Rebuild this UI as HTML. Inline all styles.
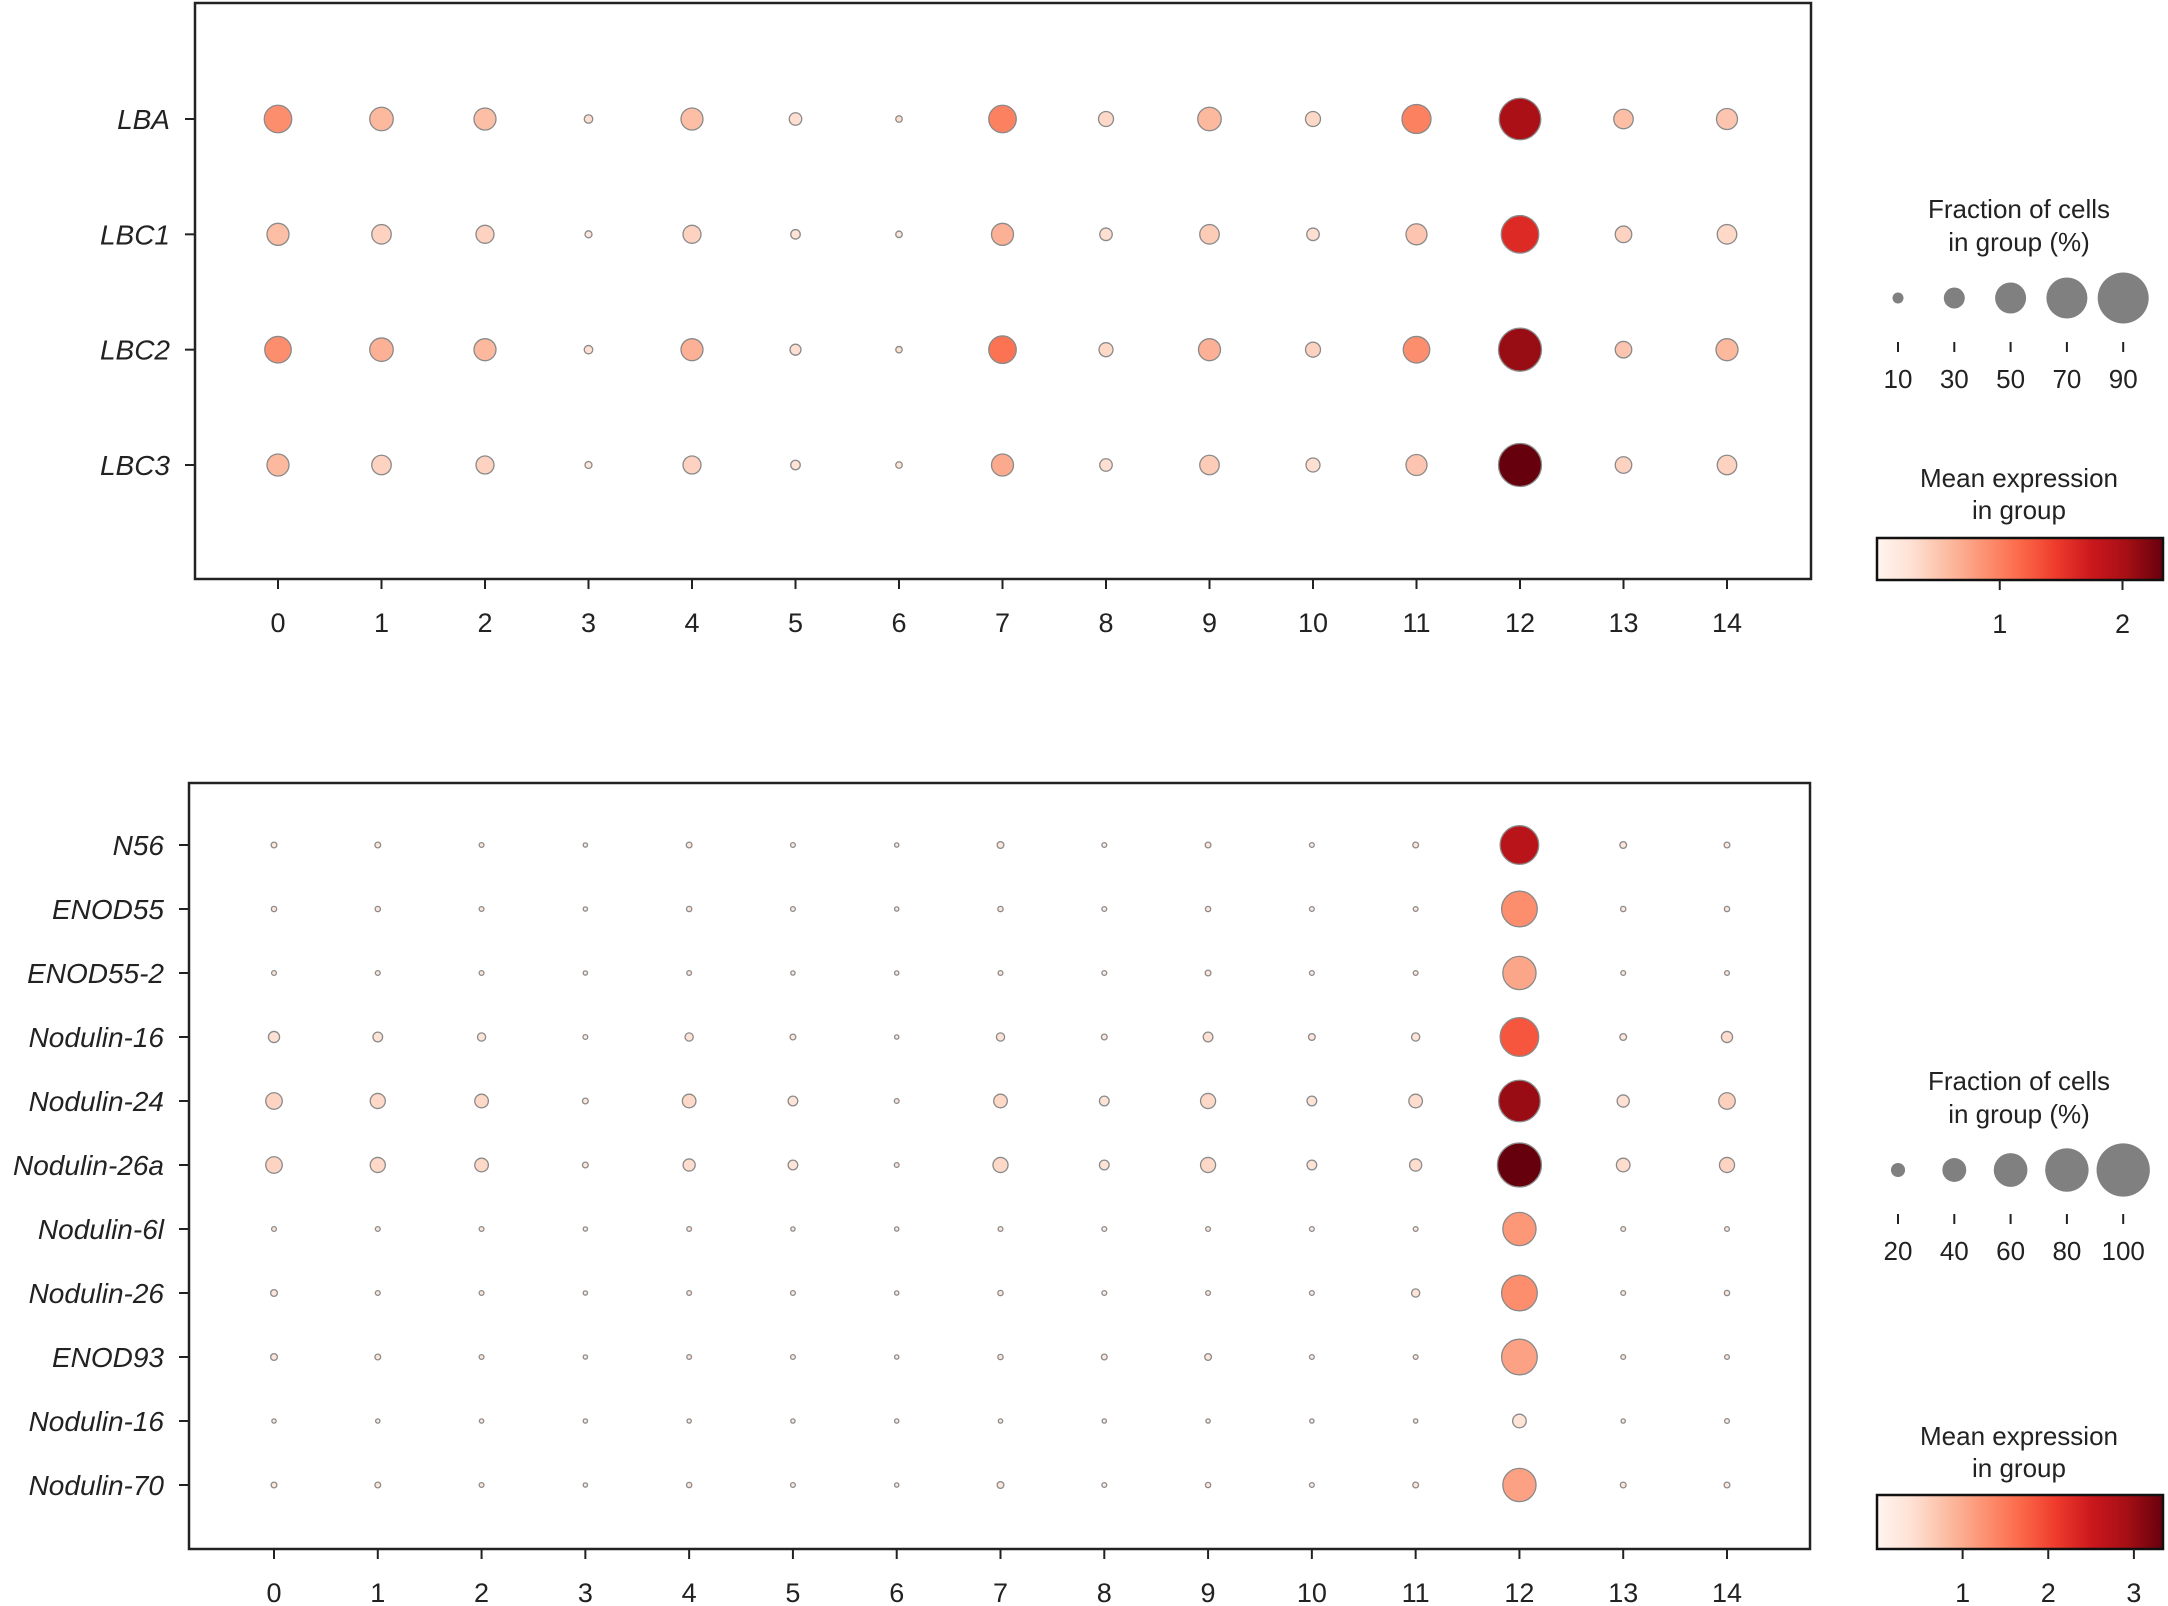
<!DOCTYPE html>
<html><head><meta charset="utf-8"><style>
html,body{margin:0;padding:0;background:#fff;}
svg{display:block;font-family:"Liberation Sans",Arial,sans-serif;}
</style></head><body>
<svg id="chart" width="2168" height="1606" viewBox="0 0 2168 1606" xmlns="http://www.w3.org/2000/svg">
<defs>
<linearGradient id="reds" x1="0" x2="1" y1="0" y2="0">
<stop offset="0" stop-color="#fff5f0"/><stop offset="0.125" stop-color="#fee0d2"/><stop offset="0.25" stop-color="#fcbba1"/><stop offset="0.375" stop-color="#fc9272"/><stop offset="0.5" stop-color="#fb6a4a"/><stop offset="0.625" stop-color="#ef3b2c"/><stop offset="0.75" stop-color="#cb181d"/><stop offset="0.875" stop-color="#a50f15"/><stop offset="1" stop-color="#67000d"/>
</linearGradient>
</defs>
</svg>
<script>
const clusters=["0","1","2","3","4","5","6","7","8","9","10","11","12","13","14"];
const genesTop=["LBA","LBC1","LBC2","LBC3"];
const fracTop=[
[43,35,32,5,32,13,1,43,18,35,18,46,71,27,30],
[32,27,24,2,24,7,1,32,13,27,13,30,63,21,27],
[41,35,32,5,32,10,1,43,16,32,18,41,74,21,32],
[32,27,24,2,24,7,1,32,13,27,16,30,74,21,27]];
const exprTop=[
[0.9,0.6,0.55,0.3,0.55,0.3,0.3,1.0,0.35,0.6,0.35,1.0,2.0,0.55,0.5],
[0.55,0.4,0.4,0.2,0.4,0.25,0.2,0.65,0.3,0.45,0.3,0.5,1.6,0.4,0.35],
[0.9,0.65,0.6,0.3,0.65,0.3,0.3,1.1,0.35,0.65,0.4,0.9,2.1,0.5,0.6],
[0.6,0.4,0.4,0.2,0.4,0.25,0.2,0.7,0.3,0.45,0.3,0.5,2.33,0.4,0.4]];
const genesBot=["N56","ENOD55","ENOD55-2","Nodulin-16","Nodulin-24","Nodulin-26a","Nodulin-6l","Nodulin-26","ENOD93","Nodulin-16","Nodulin-70"];
const fracBot=[
[3,3,1,0,3,1,0,5,1,3,1,3,70,5,3],
[2,2,1,0,2,1,0,2,1,2,1,1,64,2,2],
[1,1,1,0,1,0,0,1,1,3,1,1,59,1,1],
[14,11,8,1,8,3,0,8,3,11,5,8,70,5,14],
[25,22,19,3,19,11,1,19,11,22,11,19,76,16,25],
[25,22,19,3,16,11,1,22,11,22,11,16,81,19,22],
[1,1,1,0,1,0,0,1,1,1,1,1,59,1,1],
[5,1,1,0,1,1,0,2,1,1,1,8,64,1,2],
[5,3,1,0,1,1,0,2,3,5,1,1,64,1,1],
[0,0,0,0,0,0,0,0,0,0,0,0,19,0,1],
[3,3,1,0,2,1,0,5,1,2,1,3,59,3,3]];
const exprBot=[
[0.3,0.3,0.3,0.2,0.3,0.2,0.2,0.3,0.2,0.3,0.2,0.3,2.7,0.3,0.3],
[0.3,0.3,0.3,0.2,0.3,0.2,0.2,0.3,0.2,0.3,0.2,0.3,1.3,0.3,0.3],
[0.3,0.3,0.3,0.2,0.3,0.2,0.2,0.3,0.2,0.3,0.2,0.3,1.05,0.3,0.3],
[0.4,0.35,0.35,0.2,0.35,0.3,0.2,0.35,0.3,0.4,0.3,0.35,1.85,0.3,0.45],
[0.55,0.5,0.5,0.3,0.5,0.35,0.3,0.5,0.35,0.5,0.35,0.45,3.0,0.4,0.6],
[0.55,0.5,0.5,0.3,0.45,0.35,0.3,0.5,0.35,0.5,0.35,0.45,3.34,0.45,0.55],
[0.3,0.3,0.3,0.2,0.3,0.2,0.2,0.3,0.2,0.3,0.2,0.3,1.2,0.3,0.3],
[0.3,0.3,0.3,0.2,0.3,0.2,0.2,0.3,0.2,0.3,0.2,0.35,1.3,0.3,0.3],
[0.3,0.3,0.3,0.2,0.3,0.2,0.2,0.3,0.3,0.3,0.2,0.3,1.1,0.3,0.3],
[0.2,0.2,0.2,0.2,0.2,0.2,0.2,0.2,0.2,0.2,0.2,0.2,0.35,0.2,0.2],
[0.3,0.3,0.3,0.2,0.3,0.2,0.2,0.3,0.2,0.3,0.2,0.3,1.1,0.3,0.3]];
const sizeTicksTop=[10,30,50,70,90];
const sizeTicksBot=[20,40,60,80,100];
const cbarTicksTop=[1,2];
const cbarTicksBot=[1,2,3];

const NS="http://www.w3.org/2000/svg";
const svg=document.getElementById('chart');
const stops=[[0,[255,245,240]],[0.125,[254,224,210]],[0.25,[252,187,161]],[0.375,[252,146,114]],[0.5,[251,106,74]],[0.625,[239,59,44]],[0.75,[203,24,29]],[0.875,[165,15,21]],[1,[103,0,13]]];
function reds(t){t=Math.max(0,Math.min(1,t));for(let i=1;i<stops.length;i++){if(t<=stops[i][0]){const a=stops[i-1],b=stops[i];const u=(t-a[0])/(b[0]-a[0]);const c=a[1].map((v,k)=>Math.round(v+(b[1][k]-v)*u));return `rgb(${c.join(',')})`;}}return 'rgb(103,0,13)';}
function mk(tag,attrs,parent){const e=document.createElementNS(NS,tag);for(const k in attrs)e.setAttribute(k,attrs[k]);(parent||svg).appendChild(e);return e;}

function panel(cfg){
  const g=mk('g',{});
  
  
  const xs=i=>cfg.x0+(cfg.x1-cfg.x0)*i/(clusters.length-1);
  const ys=j=>cfg.y0+(cfg.y1-cfg.y0)*j/(cfg.genes.length-1);
  const dsz=f=>cfg.da+cfg.db*f;
  const col=v=>reds(v/cfg.vmax);
  const box=mk('rect',{x:cfg.L,y:cfg.T,width:cfg.R-cfg.L,height:cfg.B-cfg.T,fill:'none',stroke:'#222','stroke-width':2.5},g);
  
  
  clusters.forEach((c,i)=>{
    const x=xs(i);
    mk('line',{x1:x,x2:x,y1:cfg.B,y2:cfg.B+10,stroke:'#222','stroke-width':2},g);
    const t=mk('text',{x:x,y:cfg.B+53,'text-anchor':'middle','font-size':27,fill:'#222'},g);
    t.textContent=c;
    
    
  });
  cfg.genes.forEach((gn,j)=>{
    const y=ys(j);
    mk('line',{x1:cfg.L-10,x2:cfg.L,y1:y,y2:y,stroke:'#222','stroke-width':2},g);
    const t=mk('text',{x:cfg.L-25,y:y+10,'text-anchor':'end','font-size':28,'font-style':'italic',fill:'#222'},g);
    t.textContent=gn;
    
    
    clusters.forEach((c,i)=>{
      const d=dsz(cfg.frac[j][i]);
      const ci=mk('circle',{cx:xs(i),cy:y,r:d/2,fill:col(cfg.expr[j][i]),stroke:'#8a8a8a','stroke-width':1.3},g);
      
      
    });
  });
  const lg=mk('g',{},svg);
  
  
  ['Fraction of cells','in group (%)'].forEach((s,k)=>{const t=mk('text',{x:2019,y:cfg.ly+k*33,'text-anchor':'middle','font-size':26,fill:'#222'},lg);t.textContent=s;});
  cfg.sizeTicks.forEach((v,k)=>{
    const x=1898+56.3*k;
    const ci=mk('circle',{cx:x,cy:cfg.ly+80,r:dsz(v)/2,fill:'#808080'},lg);
    
    
    mk('line',{x1:x,x2:x,y1:cfg.ly+124,y2:cfg.ly+134,stroke:'#222','stroke-width':2},lg);
    const t=mk('text',{x:x,y:cfg.ly+170,'text-anchor':'middle','font-size':26,fill:'#222'},lg);t.textContent=v;
  });
  const cg=mk('g',{},svg);
  
  
  ['Mean expression','in group'].forEach((s,k)=>{const t=mk('text',{x:2019,y:cfg.cy+k*32,'text-anchor':'middle','font-size':26,fill:'#222'},cg);t.textContent=s;});
  const by=cfg.cby, bh=cfg.cbh;
  mk('rect',{x:1877,y:by,width:286,height:bh,fill:'url(#reds)',stroke:'#111','stroke-width':2.5},cg);
  cfg.cbarTicks.forEach(v=>{
    const x=1877+286*v/cfg.vmax;
    mk('line',{x1:x,x2:x,y1:by+bh,y2:by+bh+10,stroke:'#222','stroke-width':2},cg);
    const t=mk('text',{x:x,y:by+bh+53,'text-anchor':'middle','font-size':27,fill:'#222'},cg);t.textContent=v;
  });
}
panel({name:'top-dotplot',L:195,R:1811,T:3,B:579,x0:278,x1:1727,y0:119,y1:465,genes:genesTop,frac:fracTop,expr:exprTop,vmax:2.33,da:6,db:0.5,sizeTicks:sizeTicksTop,ly:218,cy:487,cby:538,cbh:42,cbarTicks:cbarTicksTop});
panel({name:'bottom-dotplot',L:189,R:1810,T:783,B:1549,x0:274,x1:1727,y0:845,y1:1485,genes:genesBot,frac:fracBot,expr:exprBot,vmax:3.34,da:4.3,db:0.49,sizeTicks:sizeTicksBot,ly:1090,cy:1445,cby:1495,cbh:54,cbarTicks:cbarTicksBot});
</script>
</body></html>
